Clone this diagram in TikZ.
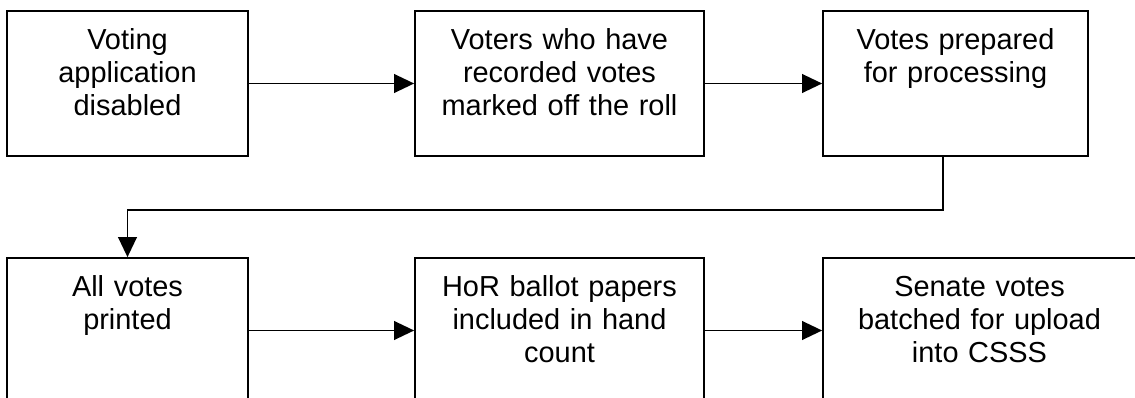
\documentclass[tikz,border=0pt]{standalone}
\usepackage{fontspec}
\setmainfont{Liberation Sans}
\usetikzlibrary{arrows.meta}

\tikzset{
  stagebox/.style={draw=black, line width=1.3pt, inner xsep=0pt, inner ysep=0pt,
    align=center, font=\fontsize{21.7}{24.75}\selectfont,
    text height=29.25pt, text depth=79.5pt},
  flowarrow/.style={draw=black, line width=1.3pt, -{Triangle[length=15pt,width=14pt]}}
}

\begin{document}
\begin{tikzpicture}[x=0.75pt, y=-0.75pt]
            \useasboundingbox (0,0) rectangle (1135,398);
            % top row
            \node[stagebox, text width=180.75pt] (disabled) at (127.5,83.5) {Voting\\application\\disabled};
            \node[stagebox, text width=216.75pt] (markedoff) at (559.5,83.5) {Voters who have\\recorded votes\\marked off the roll};
            \node[stagebox, text width=198.75pt] (prepared) at (955.5,83.5) {Votes prepared\\for processing};
            % bottom row
            \node[stagebox, text width=180.75pt] (printed) at (127.5,330.5) {All votes\\printed};
            \node[stagebox, text width=216.75pt] (handcount) at (559.5,330.5) {HoR ballot papers\\included in hand\\count};
            \node[stagebox, text width=234.75pt] (batched) at (979.5,330.5) {Senate votes\\batched for upload\\into CSSS};
            % connectors
            \coordinate (turn) at (943,210);
            \draw[flowarrow] (disabled) -- (markedoff);
            \draw[flowarrow] (markedoff) -- (prepared);
            \draw[flowarrow] (prepared.south -| turn) -- (turn) -| (printed.north);
            \draw[flowarrow] (printed) -- (handcount);
            \draw[flowarrow] (handcount) -- (batched);
        \end{tikzpicture}
\end{document}
